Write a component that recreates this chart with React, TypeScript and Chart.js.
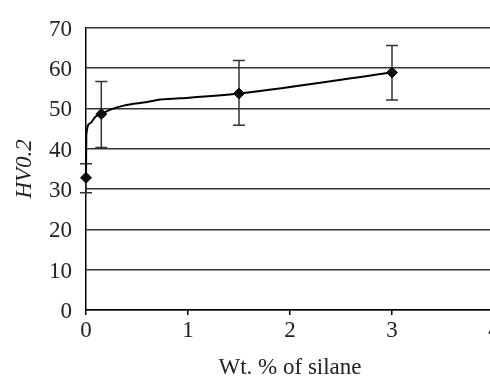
import React, { useEffect, useRef } from "react";
import { Chart, registerables } from "chart.js";

Chart.register(...registerables);

// Measured points (Wt. % of silane vs HV0.2)
const silaneWt = [0, 0.15, 1.5, 3];
const hardness = [32.8, 48.6, 53.7, 58.9];
const errorUpper = [36.3, 56.7, 61.9, 65.6];
const errorLower = [29.1, 40.3, 45.8, 52.1];

// Fitted curve
const curveX = [0, 0.003, 0.04, 0.09, 0.15, 0.24, 0.37, 0.6, 0.73, 0.92, 1.5, 3];
const curveY = [32.8, 43.5, 46.3, 47.9, 48.6, 49.7, 50.7, 51.6, 52.2, 52.5, 53.7, 58.9];

const yTicks = [0, 10, 20, 30, 40, 50, 60, 70];
const xTicks = [0, 1, 2, 3, 4];

const FONT = "'Liberation Serif', 'Times New Roman', serif";

const errorBarPlugin = {
  id: "errorBars",
  beforeDatasetsDraw(chart: any) {
    const { ctx, scales } = chart;
    const xs = scales.x;
    const ys = scales.y;
    ctx.save();
    ctx.strokeStyle = "#333";
    ctx.lineWidth = 1.5;
    const cap = 6;
    silaneWt.forEach((xv, i) => {
      const px = xs.getPixelForValue(xv);
      const top = ys.getPixelForValue(errorUpper[i]);
      const bot = ys.getPixelForValue(errorLower[i]);
      ctx.beginPath();
      ctx.moveTo(px, top);
      ctx.lineTo(px, bot);
      ctx.moveTo(px - cap, top);
      ctx.lineTo(px + cap, top);
      ctx.moveTo(px - cap, bot);
      ctx.lineTo(px + cap, bot);
      ctx.stroke();
    });
    ctx.restore();
  },
};

export default function App() {
  const ref = useRef<HTMLCanvasElement | null>(null);

  useEffect(() => {
    if (!ref.current) return;
    const chart = new Chart(ref.current, {
      type: "scatter",
      data: {
        datasets: [
          {
            label: "fit",
            data: curveX.map((x, i) => ({ x, y: curveY[i] })),
            showLine: true,
            borderColor: "#000",
            borderWidth: 2,
            pointRadius: 0,
            cubicInterpolationMode: "monotone",
            clip: false,
          } as any,
          {
            label: "HV0.2",
            data: silaneWt.map((x, i) => ({ x, y: hardness[i] })),
            showLine: false,
            pointStyle: "rectRot",
            pointRadius: 5.5,
            backgroundColor: "#111",
            borderColor: "#111",
            borderWidth: 1,
            clip: false,
          } as any,
        ],
      },
      options: {
        animation: false,
        responsive: true,
        maintainAspectRatio: false,
        layout: { padding: { top: 20, left: 0, right: 26, bottom: 0 } },
        plugins: {
          legend: { display: false },
          tooltip: { enabled: false },
        },
        scales: {
          x: {
            type: "linear",
            min: 0,
            max: 4,
            afterFit: (s: any) => {
              s.height = 68;
            },
            afterBuildTicks: (s: any) => {
              s.ticks = xTicks.map((v) => ({ value: v }));
            },
            ticks: {
              color: "#222",
              font: { family: FONT, size: 23 },
              padding: 2,
              maxRotation: 0,
            },
            grid: {
              drawOnChartArea: false,
              drawTicks: true,
              tickLength: 5,
              color: "#000",
              lineWidth: 1.5,
            },
            border: { color: "#000", width: 1.5 },
            title: {
              display: true,
              text: "Wt. % of silane",
              color: "#222",
              font: { family: FONT, size: 23 },
              padding: { top: 0, bottom: -4 },
            },
          },
          y: {
            type: "linear",
            min: 0,
            max: 70,
            afterFit: (s: any) => {
              s.width = 86;
            },
            afterBuildTicks: (s: any) => {
              s.ticks = yTicks.map((v) => ({ value: v }));
            },
            ticks: {
              color: "#222",
              font: { family: FONT, size: 23 },
              padding: 14,
              labelOffset: 2,
            },
            grid: {
              drawTicks: false,
              color: "#333",
              lineWidth: 1.5,
            },
            border: { color: "#000", width: 1.5 },
            title: {
              display: true,
              text: "HV0.2",
              color: "#222",
              font: { family: FONT, size: 23, style: "italic" },
              padding: { top: 11, bottom: 0 },
            },
          },
        },
      },
      plugins: [errorBarPlugin],
    });
    return () => chart.destroy();
  }, []);

  return (
    <div
      style={{
        position: "fixed",
        left: 0,
        top: 0,
        width: 490,
        height: 378,
        overflow: "hidden",
        background: "#fff",
      }}
    >
      <div style={{ position: "relative", width: 520, height: 378 }}>
        <canvas ref={ref} />
      </div>
    </div>
  );
}
